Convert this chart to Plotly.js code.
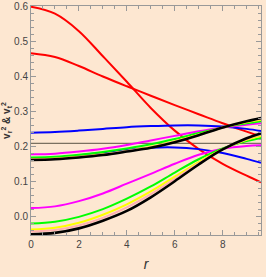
<!DOCTYPE html>
<html>
<head>
<meta charset="utf-8">
<script src="https://cdn.plot.ly/plotly-3.0.1.min.js"></script>
<style>html,body{margin:0;padding:0;background:#fde7d1;}</style>
</head>
<body>
<div id="chart" style="width:266px;height:277px;"></div>
<script>
// radial coordinate
const r = [0, 1, 2, 3, 4, 5, 6, 7, 8, 9, 9.6];
// red curves
const redA = [0.600, 0.580, 0.530, 0.458, 0.385, 0.310, 0.245, 0.192, 0.150, 0.116, 0.097];
const redB = [0.467, 0.456, 0.430, 0.400, 0.372, 0.345, 0.318, 0.292, 0.266, 0.242, 0.228];
// blue curves
const blueA = [0.239, 0.241, 0.245, 0.250, 0.255, 0.258, 0.260, 0.260, 0.257, 0.250, 0.244];
const blueB = [0.166, 0.168, 0.174, 0.182, 0.190, 0.196, 0.197, 0.192, 0.181, 0.164, 0.153];
// upper group
const magentaA = [0.177, 0.179, 0.185, 0.193, 0.204, 0.217, 0.230, 0.243, 0.254, 0.262, 0.266];
const greenA   = [0.168, 0.170, 0.176, 0.184, 0.194, 0.206, 0.221, 0.238, 0.254, 0.266, 0.272];
const yellowA  = [0.163, 0.165, 0.170, 0.177, 0.187, 0.199, 0.215, 0.234, 0.254, 0.269, 0.276];
const pinkA    = [0.162, 0.164, 0.169, 0.176, 0.186, 0.197, 0.213, 0.233, 0.254, 0.271, 0.279];
const blackA   = [0.161, 0.163, 0.168, 0.175, 0.185, 0.196, 0.212, 0.232, 0.254, 0.272, 0.281];
// lower group
const magentaB = [0.023, 0.028, 0.043, 0.065, 0.093, 0.121, 0.150, 0.176, 0.193, 0.201, 0.203];
const greenB   = [-0.021, -0.016, -0.002, 0.020, 0.050, 0.085, 0.125, 0.163, 0.194, 0.215, 0.224];
const yellowB  = [-0.038, -0.033, -0.019, 0.004, 0.034, 0.071, 0.113, 0.155, 0.192, 0.219, 0.230];
const pinkB    = [-0.044, -0.040, -0.027, -0.005, 0.025, 0.063, 0.107, 0.151, 0.191, 0.221, 0.234];
const blackB   = [-0.052, -0.048, -0.035, -0.013, 0.015, 0.054, 0.100, 0.148, 0.191, 0.223, 0.237];
// horizontal reference line
const refX = [0, 9.6];
const refY = [0.2085, 0.2085];

const xTicks = [0, 2, 4, 6, 8];
const yTicks = [0.0, 0.1, 0.2, 0.3, 0.4, 0.5, 0.6];
const yTickText = ["0.0", "0.1", "0.2", "0.3", "0.4", "0.5", "0.6"];

function tr(y, color, w) {
  return {x: r, y: y, type: 'scatter', mode: 'lines',
    line: {color: color, width: w, shape: 'spline', smoothing: 1}, hoverinfo: 'skip'};
}
const data = [
  {x: refX, y: refY, type: 'scatter', mode: 'lines', line: {color: '#7a7060', width: 1.2}, hoverinfo: 'skip'},
  tr(redA, '#ff0000', 2), tr(redB, '#ff0000', 2),
  tr(blueA, '#0000ff', 2), tr(blueB, '#0000ff', 2),
  tr(magentaA, '#ff00ff', 2), tr(magentaB, '#ff00ff', 2),
  tr(greenA, '#00ff00', 2), tr(greenB, '#00ff00', 2),
  tr(yellowA, '#ffff00', 2), tr(yellowB, '#ffff00', 2),
  tr(pinkA, '#ffafaf', 2), tr(pinkB, '#ffafaf', 2),
  tr(blackA, '#000000', 2.6), tr(blackB, '#000000', 2.6)
];
const tickFont = {family: 'Liberation Sans Narrow, Liberation Sans, Arial, sans-serif', size: 10, color: '#444'};
const layout = {
  width: 266, height: 277,
  margin: {l: 31, r: 5, t: 6, b: 42},
  paper_bgcolor: '#fde7d1', plot_bgcolor: '#fde7d1',
  showlegend: false,
  xaxis: {
    range: [0, 9.6], tickvals: xTicks, ticktext: xTicks.map(String),
    ticks: 'inside', ticklen: 5, tickcolor: '#999', tickwidth: 1,
    minor: {dtick: 0.5, tick0: 0, ticks: 'inside', ticklen: 3, tickcolor: '#999'},
    showline: true, linecolor: '#999', linewidth: 1, mirror: 'allticks',
    showgrid: false, zeroline: false, tickfont: tickFont,
    title: {text: '<i>r</i>', font: {family: 'Liberation Sans, Arial, sans-serif', size: 14, color: '#333'}, standoff: 10}
  },
  yaxis: {
    range: [-0.054, 0.602], tickvals: yTicks, ticktext: yTickText,
    ticks: 'inside', ticklen: 5, tickcolor: '#999', tickwidth: 1,
    minor: {dtick: 0.02, tick0: 0, ticks: 'inside', ticklen: 3, tickcolor: '#999'},
    showline: true, linecolor: '#999', linewidth: 1, mirror: 'allticks',
    showgrid: false, zeroline: false, tickfont: tickFont,
    title: {text: '<b>v<sub>r</sub><sup>2</sup> & v<sub>t</sub><sup>2</sup></b>', font: {family: 'Liberation Sans, Arial, sans-serif', size: 10, color: '#333'}, standoff: 2}
  }
};
Plotly.newPlot('chart', data, layout, {staticPlot: true, displayModeBar: false});
</script>
</body>
</html>
